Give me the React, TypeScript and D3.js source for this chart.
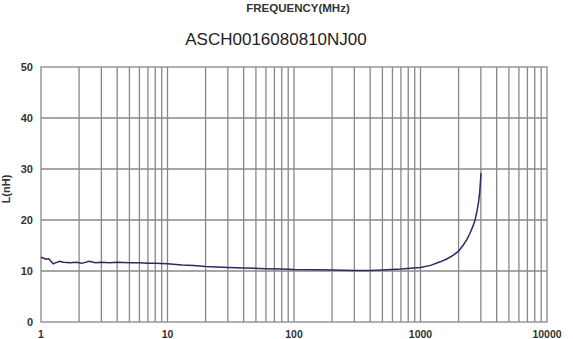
import React from "react";
import * as d3 from "d3";

const freqMHz = [1, 1.05, 1.1, 1.15, 1.2, 1.25, 1.3, 1.4, 1.5, 1.7, 1.9, 2.1, 2.4, 2.7, 3, 3.5, 4, 5, 6, 7, 8, 10, 13, 16, 20, 30, 40, 60, 80, 100, 150, 200, 300, 400, 500, 700, 1000, 1200, 1430, 1600, 1820, 2000, 2180, 2330, 2460, 2600, 2700, 2800, 2870, 2940, 3010];
const inductanceNH = [12.7, 12.5, 12.3, 12.4, 11.9, 11.4, 11.6, 11.9, 11.7, 11.6, 11.7, 11.5, 11.9, 11.6, 11.7, 11.6, 11.7, 11.6, 11.6, 11.5, 11.5, 11.4, 11.2, 11.1, 10.9, 10.7, 10.6, 10.45, 10.4, 10.3, 10.25, 10.2, 10.1, 10.1, 10.2, 10.4, 10.7, 11.1, 11.8, 12.3, 13.1, 13.9, 15.1, 16.2, 17.4, 18.8, 20.0, 21.8, 23.3, 25.5, 29.2];
const xTickLabels = [1, 10, 100, 1000, 10000];
const yTickLabels = [0, 10, 20, 30, 40, 50];
const xAxisTitle = "FREQUENCY(MHz)";
const chartTitle = "ASCH0016080810NJ00";
const yAxisTitle = "L(nH)";

export default function App() {
  const W = 573, H = 339;
  const left = 41, right = 547, top = 67, bottom = 322;
  const x = d3.scaleLog().domain([1, 10000]).range([left, right]);
  const y = d3.scaleLinear().domain([0, 50]).range([bottom, top]);

  const vGrid: number[] = [];
  for (let d = 0; d < 4; d++) {
    for (let k = 2; k <= 9; k++) vGrid.push(k * Math.pow(10, d));
  }
  for (let d = 1; d < 4; d++) vGrid.push(Math.pow(10, d));

  const pts = freqMHz.map((f, i) => [f, inductanceNH[i]] as [number, number]);
  const line = d3.line<[number, number]>().x(d => x(d[0])).y(d => y(d[1]));

  const gridColor = "#888888";
  const labelFont = "'Liberation Sans', Arial, sans-serif";

  return (
    <svg width={W} height={H} style={{ position: "absolute", left: 0, top: 0, background: "#fff" }}>
      <rect x={0} y={0} width={W} height={H} fill="#ffffff" />
      <text x={298} y={12} textAnchor="middle" fontFamily={labelFont} fontWeight="bold" fontSize={11.5} fill="#333">{xAxisTitle}</text>
      <text x={276} y={45} textAnchor="middle" fontFamily={labelFont} fontSize={17} fill="#222">{chartTitle}</text>
      {vGrid.map((v, i) => (
        <line key={"v" + i} x1={x(v)} x2={x(v)} y1={top} y2={bottom} stroke={gridColor} strokeWidth={1.3} />
      ))}
      {yTickLabels.slice(1, -1).map((v, i) => (
        <line key={"h" + i} x1={left} x2={right} y1={y(v)} y2={y(v)} stroke={gridColor} strokeWidth={1.3} />
      ))}
      <rect x={left} y={top} width={right - left} height={bottom - top} fill="none" stroke={gridColor} strokeWidth={1.3} />
      <path d={line(pts) || ""} fill="none" stroke="#2a2a66" strokeWidth={1.5} />
      {yTickLabels.map((v, i) => (
        <text key={"yl" + i} x={33} y={y(v) + 4} textAnchor="end" fontFamily={labelFont} fontWeight="bold" fontSize={11} fill="#333">{v}</text>
      ))}
      {xTickLabels.map((v, i) => (
        <text key={"xl" + i} x={x(v)} y={338} textAnchor="middle" fontFamily={labelFont} fontWeight="bold" fontSize={10.5} fill="#333">{v}</text>
      ))}
      <text transform={`translate(10,189) rotate(-90)`} textAnchor="middle" fontFamily={labelFont} fontWeight="bold" fontSize={11} fill="#333">{yAxisTitle}</text>
    </svg>
  );
}
